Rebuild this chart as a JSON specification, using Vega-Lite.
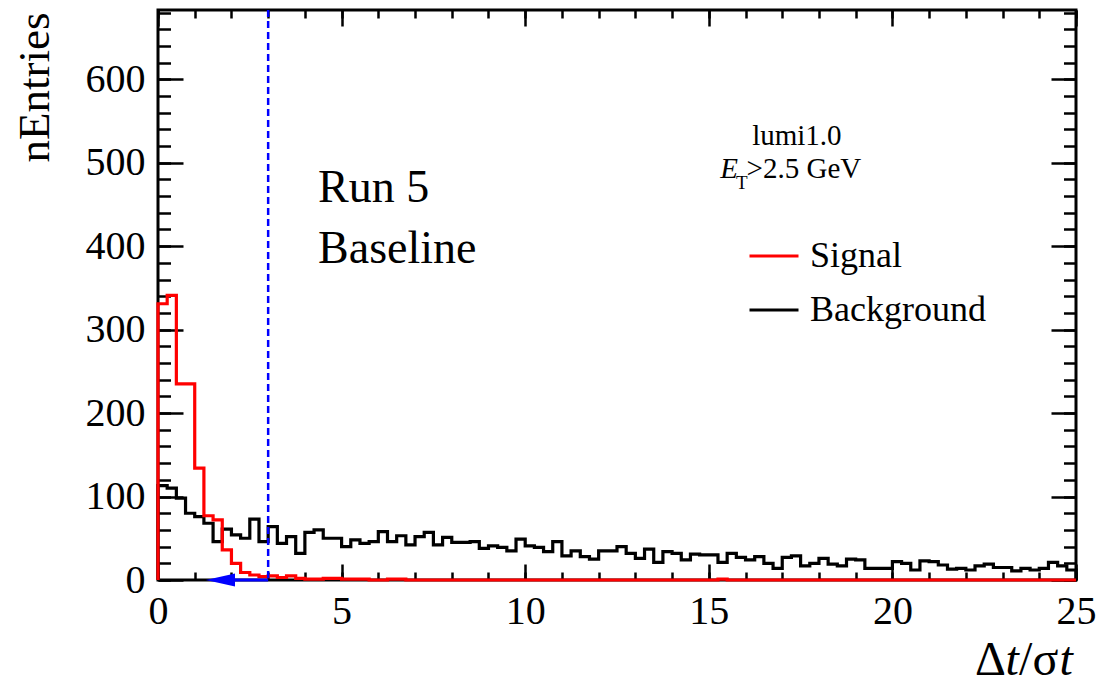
{
  "$schema": "https://vega.github.io/schema/vega-lite/v6.json",
  "width": 918,
  "height": 570,
  "autosize": {"type": "none"},
  "padding": {"left": 158, "top": 10, "right": 25, "bottom": 104},
  "background": "white",
  "config": {
    "view": {"stroke": "black", "strokeWidth": 3},
    "axis": {"grid": false, "domain": false, "labelFont": "Liberation Serif", "labelFontSize": 40, "labelColor": "black", "tickColor": "black", "tickWidth": 2.5, "titleFont": "Liberation Serif", "titleColor": "black", "titleFontWeight": "normal"},
    "text": {"font": "Liberation Serif", "color": "black"}
  },
  "resolve": {"axis": {"x": "independent", "y": "independent"}},
  "layer": [
    {
      "data": {"values": [
        {"s":"Background","k":-1,"x":0,"n":0},
        {"s":"Background","k":0,"x":0,"n":113},{"s":"Background","k":1,"x":0.25,"n":110},{"s":"Background","k":2,"x":0.5,"n":98},{"s":"Background","k":3,"x":0.75,"n":80},{"s":"Background","k":4,"x":1,"n":76},
        {"s":"Background","k":5,"x":1.25,"n":68},{"s":"Background","k":6,"x":1.5,"n":46},{"s":"Background","k":7,"x":1.75,"n":61},{"s":"Background","k":8,"x":2,"n":54},{"s":"Background","k":9,"x":2.25,"n":50},
        {"s":"Background","k":10,"x":2.5,"n":73},{"s":"Background","k":11,"x":2.75,"n":46},{"s":"Background","k":12,"x":3,"n":64},{"s":"Background","k":13,"x":3.25,"n":44},{"s":"Background","k":14,"x":3.5,"n":52},
        {"s":"Background","k":15,"x":3.75,"n":32},{"s":"Background","k":16,"x":4,"n":57},{"s":"Background","k":17,"x":4.25,"n":60},{"s":"Background","k":18,"x":4.5,"n":50},{"s":"Background","k":19,"x":4.75,"n":50},
        {"s":"Background","k":20,"x":5,"n":40},{"s":"Background","k":21,"x":5.25,"n":48},{"s":"Background","k":22,"x":5.5,"n":44},{"s":"Background","k":23,"x":5.75,"n":46},{"s":"Background","k":24,"x":6,"n":58},
        {"s":"Background","k":25,"x":6.25,"n":46},{"s":"Background","k":26,"x":6.5,"n":53},{"s":"Background","k":27,"x":6.75,"n":42},{"s":"Background","k":28,"x":7,"n":52},{"s":"Background","k":29,"x":7.25,"n":57},
        {"s":"Background","k":30,"x":7.5,"n":42},{"s":"Background","k":31,"x":7.75,"n":51},{"s":"Background","k":32,"x":8,"n":45},{"s":"Background","k":33,"x":8.25,"n":45},{"s":"Background","k":34,"x":8.5,"n":46},
        {"s":"Background","k":35,"x":8.75,"n":38},{"s":"Background","k":36,"x":9,"n":41},{"s":"Background","k":37,"x":9.25,"n":39},{"s":"Background","k":38,"x":9.5,"n":35},{"s":"Background","k":39,"x":9.75,"n":49},
        {"s":"Background","k":40,"x":10,"n":41},{"s":"Background","k":41,"x":10.25,"n":39},{"s":"Background","k":42,"x":10.5,"n":34},{"s":"Background","k":43,"x":10.75,"n":46},{"s":"Background","k":44,"x":11,"n":29},
        {"s":"Background","k":45,"x":11.25,"n":35},{"s":"Background","k":46,"x":11.5,"n":28},{"s":"Background","k":47,"x":11.75,"n":25},{"s":"Background","k":48,"x":12,"n":35},{"s":"Background","k":49,"x":12.25,"n":35},
        {"s":"Background","k":50,"x":12.5,"n":40},{"s":"Background","k":51,"x":12.75,"n":32},{"s":"Background","k":52,"x":13,"n":26},{"s":"Background","k":53,"x":13.25,"n":37},{"s":"Background","k":54,"x":13.5,"n":21},
        {"s":"Background","k":55,"x":13.75,"n":34},{"s":"Background","k":56,"x":14,"n":32},{"s":"Background","k":57,"x":14.25,"n":24},{"s":"Background","k":58,"x":14.5,"n":31},{"s":"Background","k":59,"x":14.75,"n":30},
        {"s":"Background","k":60,"x":15,"n":30},{"s":"Background","k":61,"x":15.25,"n":21},{"s":"Background","k":62,"x":15.5,"n":32},{"s":"Background","k":63,"x":15.75,"n":27},{"s":"Background","k":64,"x":16,"n":24},
        {"s":"Background","k":65,"x":16.25,"n":28},{"s":"Background","k":66,"x":16.5,"n":20},{"s":"Background","k":67,"x":16.75,"n":14},{"s":"Background","k":68,"x":17,"n":27},{"s":"Background","k":69,"x":17.25,"n":29},
        {"s":"Background","k":70,"x":17.5,"n":17},{"s":"Background","k":71,"x":17.75,"n":20},{"s":"Background","k":72,"x":18,"n":26},{"s":"Background","k":73,"x":18.25,"n":19},{"s":"Background","k":74,"x":18.5,"n":17},
        {"s":"Background","k":75,"x":18.75,"n":25},{"s":"Background","k":76,"x":19,"n":24},{"s":"Background","k":77,"x":19.25,"n":14},{"s":"Background","k":78,"x":19.5,"n":14},{"s":"Background","k":79,"x":19.75,"n":14},
        {"s":"Background","k":80,"x":20,"n":22},{"s":"Background","k":81,"x":20.25,"n":20},{"s":"Background","k":82,"x":20.5,"n":12},{"s":"Background","k":83,"x":20.75,"n":23},{"s":"Background","k":84,"x":21,"n":22},
        {"s":"Background","k":85,"x":21.25,"n":18},{"s":"Background","k":86,"x":21.5,"n":13},{"s":"Background","k":87,"x":21.75,"n":14},{"s":"Background","k":88,"x":22,"n":12},{"s":"Background","k":89,"x":22.25,"n":17},
        {"s":"Background","k":90,"x":22.5,"n":19},{"s":"Background","k":91,"x":22.75,"n":15},{"s":"Background","k":92,"x":23,"n":15},{"s":"Background","k":93,"x":23.25,"n":11},{"s":"Background","k":94,"x":23.5,"n":14},
        {"s":"Background","k":95,"x":23.75,"n":12},{"s":"Background","k":96,"x":24,"n":14},{"s":"Background","k":97,"x":24.25,"n":21},{"s":"Background","k":98,"x":24.5,"n":17},{"s":"Background","k":99,"x":24.75,"n":12},
        {"s":"Background","k":100,"x":25,"n":12},{"s":"Background","k":101,"x":25,"n":0},
        {"s":"Signal","k":-1,"x":0,"n":0},
        {"s":"Signal","k":0,"x":0,"n":331},{"s":"Signal","k":1,"x":0.25,"n":341},{"s":"Signal","k":2,"x":0.5,"n":235},{"s":"Signal","k":3,"x":0.75,"n":235},{"s":"Signal","k":4,"x":1,"n":134},
        {"s":"Signal","k":5,"x":1.25,"n":77},{"s":"Signal","k":6,"x":1.5,"n":72},{"s":"Signal","k":7,"x":1.75,"n":36},{"s":"Signal","k":8,"x":2,"n":20},{"s":"Signal","k":9,"x":2.25,"n":9},
        {"s":"Signal","k":10,"x":2.5,"n":6},{"s":"Signal","k":11,"x":2.75,"n":4},{"s":"Signal","k":12,"x":3,"n":5},{"s":"Signal","k":13,"x":3.25,"n":3},{"s":"Signal","k":14,"x":3.5,"n":5},
        {"s":"Signal","k":15,"x":3.75,"n":2},{"s":"Signal","k":16,"x":4,"n":1},{"s":"Signal","k":17,"x":4.25,"n":1},{"s":"Signal","k":18,"x":4.5,"n":2},{"s":"Signal","k":19,"x":4.75,"n":2},
        {"s":"Signal","k":20,"x":5,"n":1},{"s":"Signal","k":21,"x":5.25,"n":1},{"s":"Signal","k":22,"x":5.5,"n":1},{"s":"Signal","k":23,"x":5.75,"n":0},{"s":"Signal","k":24,"x":6,"n":0},
        {"s":"Signal","k":25,"x":6.25,"n":1},{"s":"Signal","k":26,"x":6.5,"n":1},{"s":"Signal","k":27,"x":6.75,"n":0},{"s":"Signal","k":28,"x":7,"n":0},{"s":"Signal","k":29,"x":7.25,"n":0},
        {"s":"Signal","k":30,"x":7.5,"n":0},{"s":"Signal","k":31,"x":7.75,"n":0},{"s":"Signal","k":32,"x":8,"n":0},{"s":"Signal","k":33,"x":8.25,"n":0},{"s":"Signal","k":34,"x":8.5,"n":0},
        {"s":"Signal","k":35,"x":8.75,"n":0},{"s":"Signal","k":36,"x":9,"n":0},{"s":"Signal","k":37,"x":9.25,"n":0},{"s":"Signal","k":38,"x":9.5,"n":0},{"s":"Signal","k":39,"x":9.75,"n":0},
        {"s":"Signal","k":40,"x":10,"n":0},{"s":"Signal","k":41,"x":10.25,"n":0},{"s":"Signal","k":42,"x":10.5,"n":0},{"s":"Signal","k":43,"x":10.75,"n":0},{"s":"Signal","k":44,"x":11,"n":0},
        {"s":"Signal","k":45,"x":11.25,"n":0},{"s":"Signal","k":46,"x":11.5,"n":0},{"s":"Signal","k":47,"x":11.75,"n":0},{"s":"Signal","k":48,"x":12,"n":0},{"s":"Signal","k":49,"x":12.25,"n":0},
        {"s":"Signal","k":50,"x":12.5,"n":0},{"s":"Signal","k":51,"x":12.75,"n":0},{"s":"Signal","k":52,"x":13,"n":0},{"s":"Signal","k":53,"x":13.25,"n":0},{"s":"Signal","k":54,"x":13.5,"n":0},
        {"s":"Signal","k":55,"x":13.75,"n":0},{"s":"Signal","k":56,"x":14,"n":0},{"s":"Signal","k":57,"x":14.25,"n":0},{"s":"Signal","k":58,"x":14.5,"n":0},{"s":"Signal","k":59,"x":14.75,"n":0},
        {"s":"Signal","k":60,"x":15,"n":0},{"s":"Signal","k":61,"x":15.25,"n":1},{"s":"Signal","k":62,"x":15.5,"n":0},{"s":"Signal","k":63,"x":15.75,"n":0},{"s":"Signal","k":64,"x":16,"n":0},
        {"s":"Signal","k":65,"x":16.25,"n":0},{"s":"Signal","k":66,"x":16.5,"n":0},{"s":"Signal","k":67,"x":16.75,"n":0},{"s":"Signal","k":68,"x":17,"n":0},{"s":"Signal","k":69,"x":17.25,"n":0},
        {"s":"Signal","k":70,"x":17.5,"n":0},{"s":"Signal","k":71,"x":17.75,"n":0},{"s":"Signal","k":72,"x":18,"n":0},{"s":"Signal","k":73,"x":18.25,"n":0},{"s":"Signal","k":74,"x":18.5,"n":0},
        {"s":"Signal","k":75,"x":18.75,"n":0},{"s":"Signal","k":76,"x":19,"n":0},{"s":"Signal","k":77,"x":19.25,"n":0},{"s":"Signal","k":78,"x":19.5,"n":0},{"s":"Signal","k":79,"x":19.75,"n":0},
        {"s":"Signal","k":80,"x":20,"n":0},{"s":"Signal","k":81,"x":20.25,"n":0},{"s":"Signal","k":82,"x":20.5,"n":0},{"s":"Signal","k":83,"x":20.75,"n":0},{"s":"Signal","k":84,"x":21,"n":0},
        {"s":"Signal","k":85,"x":21.25,"n":0},{"s":"Signal","k":86,"x":21.5,"n":0},{"s":"Signal","k":87,"x":21.75,"n":0},{"s":"Signal","k":88,"x":22,"n":0},{"s":"Signal","k":89,"x":22.25,"n":0},
        {"s":"Signal","k":90,"x":22.5,"n":0},{"s":"Signal","k":91,"x":22.75,"n":0},{"s":"Signal","k":92,"x":23,"n":0},{"s":"Signal","k":93,"x":23.25,"n":0},{"s":"Signal","k":94,"x":23.5,"n":0},
        {"s":"Signal","k":95,"x":23.75,"n":0},{"s":"Signal","k":96,"x":24,"n":0},{"s":"Signal","k":97,"x":24.25,"n":0},{"s":"Signal","k":98,"x":24.5,"n":0},{"s":"Signal","k":99,"x":24.75,"n":0},
        {"s":"Signal","k":100,"x":25,"n":0},{"s":"Signal","k":101,"x":25,"n":0}
      ]},
      "mark": {"type": "line", "interpolate": "step-after", "strokeWidth": 3.2, "strokeJoin": "miter"},
      "encoding": {
        "x": {"field": "x", "type": "quantitative", "scale": {"domain": [0, 25], "nice": false, "zero": false},
              "axis": {"orient": "bottom", "values": [0, 5, 10, 15, 20, 25], "ticks": false, "labelPadding": 11, "labelFlush": false, "labelOverlap": false, "title": null}},
        "y": {"field": "n", "type": "quantitative", "scale": {"domain": [0, 683], "nice": false, "zero": false},
              "axis": {"orient": "left", "values": [0, 100, 200, 300, 400, 500, 600], "ticks": false, "labelPadding": 13, "labelOverlap": false,
                       "title": "nEntries", "titleFontSize": 45, "titleX": -110, "titleY": 2, "titleAngle": -90, "titleAlign": "right", "titleBaseline": "alphabetic"}},
        "color": {"field": "s", "type": "nominal",
                  "scale": {"domain": ["Signal", "Background"], "range": ["#ff0000", "#000000"]},
                  "legend": {"orient": "none", "legendX": 590, "legendY": 220, "title": null, "symbolType": "stroke", "symbolSize": 2401, "symbolStrokeWidth": 3,
                             "labelFont": "Liberation Serif", "labelFontSize": 36, "labelColor": "black", "labelOffset": 10, "rowPadding": 10, "padding": 0, "labelLimit": 400}},
        "order": {"field": "k", "type": "quantitative"}
      }
    },
    {
      "data": {"values": [{"from": 3, "to": 2.0, "y": 0}]},
      "mark": {"type": "rule", "color": "#0000ff", "strokeWidth": 3},
      "encoding": {
        "x": {"field": "from", "type": "quantitative", "scale": {"domain": [0, 25], "nice": false, "zero": false},
              "axis": {"orient": "bottom", "values": [0, 5, 10, 15, 20, 25], "labels": false, "tickSize": 16, "offset": -16, "title": null}},
        "x2": {"field": "to"},
        "y": {"field": "y", "type": "quantitative", "scale": {"domain": [0, 683], "nice": false, "zero": false},
              "axis": {"orient": "left", "values": [0, 100, 200, 300, 400, 500, 600], "labels": false, "tickSize": 25, "offset": -25, "title": null}}
      }
    },
    {
      "data": {"values": [{"x": 1.7, "y": 0}]},
      "mark": {"type": "point", "filled": true, "shape": "M-1,0L1,-0.45L1,0.45Z", "size": 850, "color": "#0000ff", "opacity": 1},
      "encoding": {
        "x": {"field": "x", "type": "quantitative", "scale": {"domain": [0, 25], "nice": false, "zero": false},
              "axis": {"orient": "bottom", "values": [0,1,2,3,4,5,6,7,8,9,10,11,12,13,14,15,16,17,18,19,20,21,22,23,24,25], "labels": false, "tickSize": 8, "offset": -8, "title": null}},
        "y": {"field": "y", "type": "quantitative", "scale": {"domain": [0, 683], "nice": false, "zero": false},
              "axis": {"orient": "left", "values": [0,20,40,60,80,100,120,140,160,180,200,220,240,260,280,300,320,340,360,380,400,420,440,460,480,500,520,540,560,580,600,620,640,660,680], "labels": false, "tickSize": 12.5, "offset": -12.5, "title": null}}
      }
    },
    {
      "data": {"values": [{"x": 4.36, "y": 453, "t": "Run 5"}, {"x": 4.36, "y": 380, "t": "Baseline"}]},
      "mark": {"type": "text", "align": "left", "baseline": "alphabetic", "fontSize": 46, "font": "Liberation Serif"},
      "encoding": {
        "x": {"field": "x", "type": "quantitative", "scale": {"domain": [0, 25], "nice": false, "zero": false},
              "axis": {"orient": "top", "values": [0, 5, 10, 15, 20, 25], "labels": false, "tickSize": 16, "offset": -16, "title": null}},
        "y": {"field": "y", "type": "quantitative", "scale": {"domain": [0, 683], "nice": false, "zero": false},
              "axis": {"orient": "right", "values": [0, 100, 200, 300, 400, 500, 600], "labels": false, "tickSize": 25, "offset": -25, "title": null}},
        "text": {"field": "t"}
      }
    },
    {
      "data": {"values": [{"x": 16.18, "y": 521, "t": "lumi1.0"}, {"x": 16.03, "y": 481.3, "t": ">2.5 GeV"}]},
      "mark": {"type": "text", "align": "left", "baseline": "alphabetic", "fontSize": 29, "font": "Liberation Serif"},
      "encoding": {
        "x": {"field": "x", "type": "quantitative", "scale": {"domain": [0, 25], "nice": false, "zero": false},
              "axis": {"orient": "top", "values": [0,1,2,3,4,5,6,7,8,9,10,11,12,13,14,15,16,17,18,19,20,21,22,23,24,25], "labels": false, "tickSize": 8, "offset": -8, "title": null}},
        "y": {"field": "y", "type": "quantitative", "scale": {"domain": [0, 683], "nice": false, "zero": false},
              "axis": {"orient": "right", "values": [0,20,40,60,80,100,120,140,160,180,200,220,240,260,280,300,320,340,360,380,400,420,440,460,480,500,520,540,560,580,600,620,640,660,680], "labels": false, "tickSize": 12.5, "offset": -12.5, "title": null}},
        "text": {"field": "t"}
      }
    },
    {
      "data": {"values": [{"x": 15.31, "y": 481.3, "t": "E"}]},
      "mark": {"type": "text", "align": "left", "baseline": "alphabetic", "fontSize": 29, "font": "Liberation Serif", "fontStyle": "italic"},
      "encoding": {
        "x": {"field": "x", "type": "quantitative", "scale": {"domain": [0, 25], "nice": false, "zero": false}, "axis": null},
        "y": {"field": "y", "type": "quantitative", "scale": {"domain": [0, 683], "nice": false, "zero": false}, "axis": null},
        "text": {"field": "t"}
      }
    },
    {
      "data": {"values": [{"x": 15.74, "y": 468.5, "t": "T"}]},
      "mark": {"type": "text", "align": "left", "baseline": "alphabetic", "fontSize": 19, "font": "Liberation Serif"},
      "encoding": {
        "x": {"field": "x", "type": "quantitative", "scale": {"domain": [0, 25], "nice": false, "zero": false}, "axis": null},
        "y": {"field": "y", "type": "quantitative", "scale": {"domain": [0, 683], "nice": false, "zero": false}, "axis": null},
        "text": {"field": "t"}
      }
    },
    {
      "data": {"values": [{"x": 22.25, "y": -113.8, "t": "Δ"}, {"x": 23.45, "y": -113.8, "t": "/σ"}]},
      "mark": {"type": "text", "align": "left", "baseline": "alphabetic", "fontSize": 48, "font": "Liberation Serif"},
      "encoding": {
        "x": {"field": "x", "type": "quantitative", "scale": {"domain": [0, 25], "nice": false, "zero": false}, "axis": null},
        "y": {"field": "y", "type": "quantitative", "scale": {"domain": [0, 683], "nice": false, "zero": false}, "axis": null},
        "text": {"field": "t"}
      }
    },
    {
      "data": {"values": [{"x": 23.08, "y": -113.8, "t": "t"}, {"x": 24.55, "y": -113.8, "t": "t"}]},
      "mark": {"type": "text", "align": "left", "baseline": "alphabetic", "fontSize": 48, "font": "Liberation Serif", "fontStyle": "italic"},
      "encoding": {
        "x": {"field": "x", "type": "quantitative", "scale": {"domain": [0, 25], "nice": false, "zero": false}, "axis": null},
        "y": {"field": "y", "type": "quantitative", "scale": {"domain": [0, 683], "nice": false, "zero": false}, "axis": null},
        "text": {"field": "t"}
      }
    },
    {
      "data": {"values": [{"cut": 3}]},
      "mark": {"type": "rule", "color": "#0000ff", "strokeWidth": 2.5, "strokeDash": [7, 4]},
      "encoding": {
        "x": {"field": "cut", "type": "quantitative", "scale": {"domain": [0, 25], "nice": false, "zero": false}, "axis": null}
      }
    }
  ]
}
